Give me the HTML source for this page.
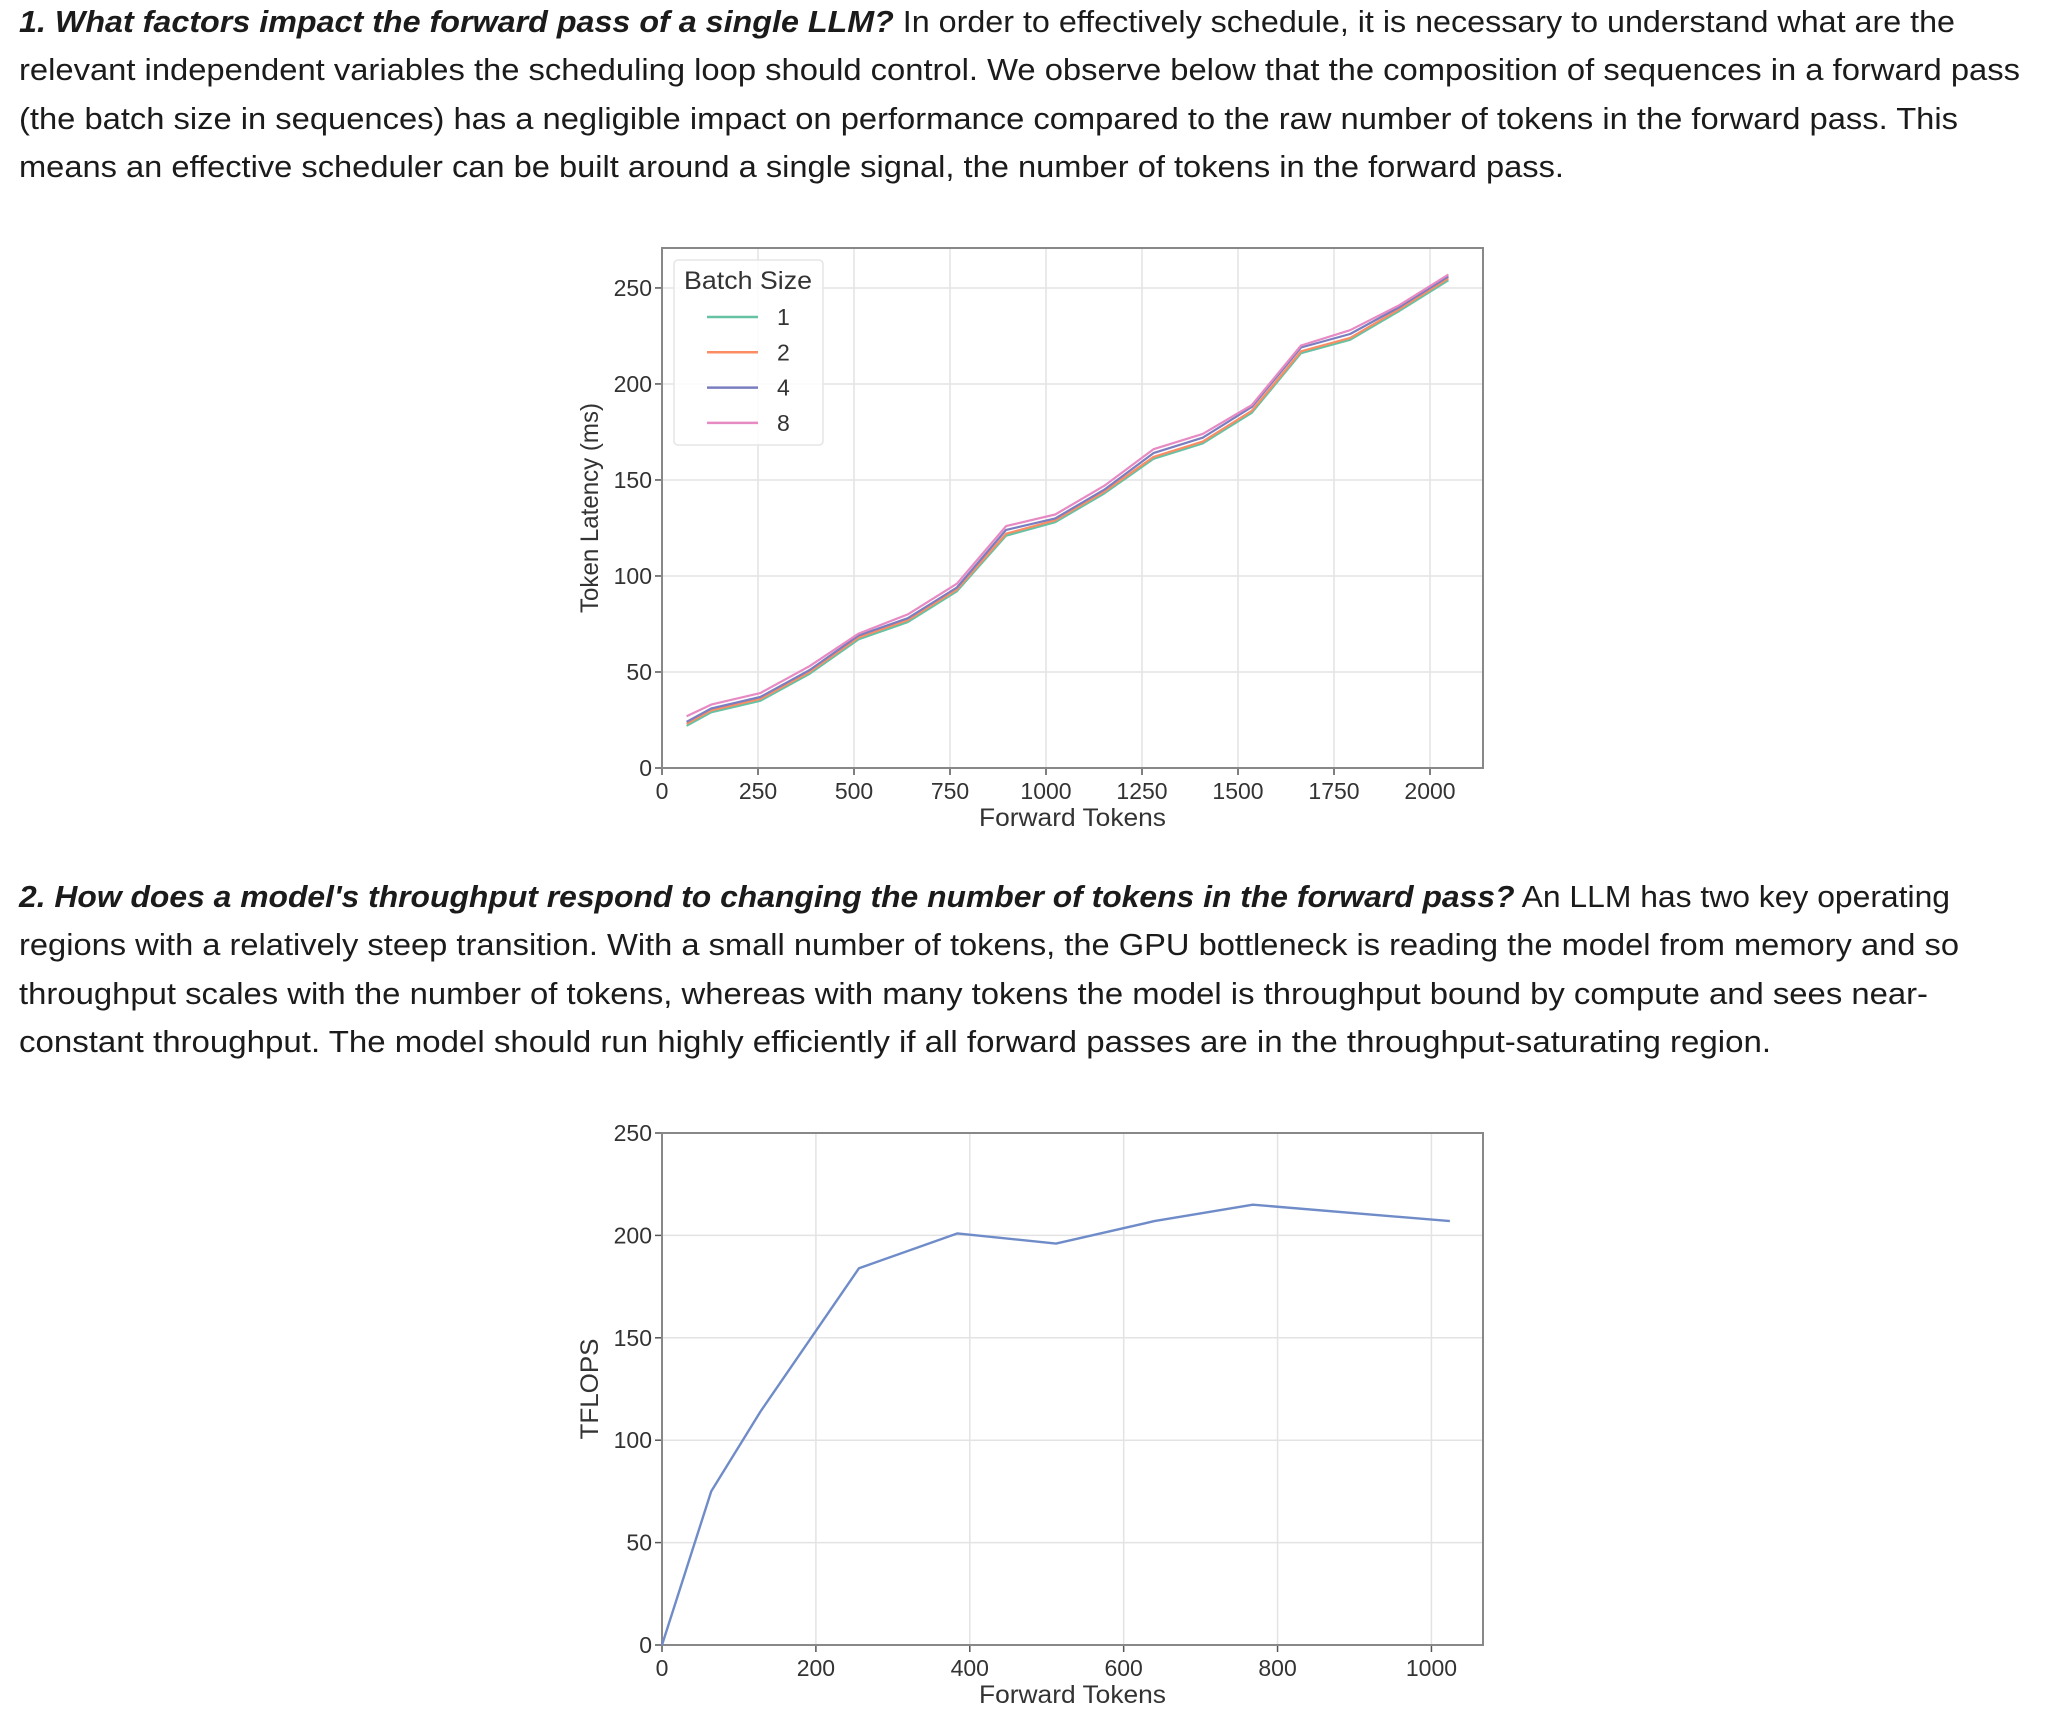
<!DOCTYPE html>
<html><head><meta charset="utf-8">
<style>
html,body{margin:0;padding:0;background:#fff;}
svg{display:block;font-family:"Liberation Sans",sans-serif;}
</style></head>
<body>
<svg id="page" width="2046" height="1730" viewBox="0 0 2046 1730" xmlns="http://www.w3.org/2000/svg">
<g font-size="31" fill="#1b1b1b">
<text x="19" y="32" textLength="1936" lengthAdjust="spacingAndGlyphs"><tspan font-weight="bold" font-style="italic">1. What factors impact the forward pass of a single LLM?</tspan> In order to effectively schedule, it is necessary to understand what are the</text>
<text x="19" y="80" textLength="2001" lengthAdjust="spacingAndGlyphs">relevant independent variables the scheduling loop should control. We observe below that the composition of sequences in a forward pass</text>
<text x="19" y="129" textLength="1939" lengthAdjust="spacingAndGlyphs">(the batch size in sequences) has a negligible impact on performance compared to the raw number of tokens in the forward pass. This</text>
<text x="19" y="177" textLength="1545" lengthAdjust="spacingAndGlyphs">means an effective scheduler can be built around a single signal, the number of tokens in the forward pass.</text>
</g>
<g font-size="31" fill="#1b1b1b">
<text x="19" y="907" textLength="1931" lengthAdjust="spacingAndGlyphs"><tspan font-weight="bold" font-style="italic">2. How does a model's throughput respond to changing the number of tokens in the forward pass?</tspan> An LLM has two key operating</text>
<text x="19" y="955" textLength="1940" lengthAdjust="spacingAndGlyphs">regions with a relatively steep transition. With a small number of tokens, the GPU bottleneck is reading the model from memory and so</text>
<text x="19" y="1004" textLength="1909" lengthAdjust="spacingAndGlyphs">throughput scales with the number of tokens, whereas with many tokens the model is throughput bound by compute and sees near-</text>
<text x="19" y="1052" textLength="1752" lengthAdjust="spacingAndGlyphs">constant throughput. The model should run highly efficiently if all forward passes are in the throughput-saturating region.</text>
</g>
<g id="chart1"></g>
<g id="chart2"></g>
</svg>
<script>
// Chart 1 data
const c1X = [64,128,256,384,512,640,768,896,1024,1152,1280,1408,1536,1664,1792,1920,2048];
const c1B1 = [22,29,35,49,67,76,92,121,128,143,161,169,185,216,223,238,254];
const c1B2 = [23,30,36,50,68,77,93,122,129,144,162,170,186,217,224,239,255];
const c1B4 = [24,31,37,51,69,78,94,124,130,145,164,172,188,219,226,240,256];
const c1B8 = [27,33,39,53,70,80,96,126,132,147,166,174,189,220,228,241,257];
const c1Series = ['1','2','4','8'];
const c1XTicks = [0,250,500,750,1000,1250,1500,1750,2000];
const c1YTicks = [0,50,100,150,200,250];
// Chart 2 data
const c2X = [0,64,128,256,384,512,640,768,1024];
const c2Y = [0,75,114,184,201,196,207,215,207];
const c2XTicks = [0,200,400,600,800,1000];
const c2YTicks = [0,50,100,150,200,250];

const NS='http://www.w3.org/2000/svg';
function mk(parent,tag,attrs,text){const e=document.createElementNS(NS,tag);for(const k in attrs)e.setAttribute(k,attrs[k]);if(text!==undefined)e.textContent=text;parent.appendChild(e);return e;}

function axes(g,o){
  const sx=v=>o.L+(v-o.x0)/(o.x1-o.x0)*(o.R-o.L);
  const sy=v=>o.B-(v-o.y0)/(o.y1-o.y0)*(o.B-o.T);
  o.xt.forEach(t=>{
    const l=mk(g,'line',{x1:sx(t),x2:sx(t),y1:o.T,y2:o.B,stroke:'#e3e3e3','stroke-width':1.5});
    
    
    const tk=mk(g,'line',{x1:sx(t),x2:sx(t),y1:o.B,y2:o.B+7,stroke:'#555','stroke-width':1.5});
    
    
    const tx=mk(g,'text',{x:sx(t),y:o.B+31,'text-anchor':'middle','font-size':23,fill:'#333'},String(t));
    
    
  });
  o.yt.forEach(t=>{
    const l=mk(g,'line',{x1:o.L,x2:o.R,y1:sy(t),y2:sy(t),stroke:'#e3e3e3','stroke-width':1.5});
    
    
    const tk=mk(g,'line',{x1:o.L-7,x2:o.L,y1:sy(t),y2:sy(t),stroke:'#555','stroke-width':1.5});
    
    
    const tx=mk(g,'text',{x:o.L-10,y:sy(t)+8,'text-anchor':'end','font-size':23,fill:'#333'},String(t));
    
    
  });
  const fr=mk(g,'rect',{x:o.L,y:o.T,width:o.R-o.L,height:o.B-o.T,fill:'none',stroke:'#888','stroke-width':2});
  
  
  const xl=mk(g,'text',{x:(o.L+o.R)/2,y:o.B+58,'text-anchor':'middle','font-size':25,fill:'#333',textLength:187,lengthAdjust:'spacingAndGlyphs'},o.xlab);
  
  
  const yc=(o.T+o.B)/2;
  const yl=mk(g,'text',{x:0,y:0,transform:`translate(598,${yc}) rotate(-90)`,'text-anchor':'middle','font-size':25,fill:'#333',textLength:o.ylen,lengthAdjust:'spacingAndGlyphs'},o.ylab);
  
  
  return {sx,sy};
}
function pathD(xs,ys,sx,sy){return xs.map((x,i)=>(i?'L':'M')+sx(x).toFixed(1)+','+sy(ys[i]).toFixed(1)).join(' ');}

// Chart 1
const g1=document.getElementById('chart1');
const a1=axes(g1,{L:662,R:1483,T:248,B:768,x0:0,x1:2138,y0:0,y1:270.8,xt:c1XTicks,yt:c1YTicks,xlab:'Forward Tokens',ylab:'Token Latency (ms)',ylen:210});
const c1Vals=[c1B1,c1B2,c1B4,c1B8];
const c1Colors=['#66c2a5','#fc8d62','#7a7ec0','#e78ac3'];
c1Vals.forEach((ys,i)=>{
  const p=mk(g1,'path',{d:pathD(c1X,ys,a1.sx,a1.sy),fill:'none',stroke:c1Colors[i],'stroke-width':2.2,'stroke-linejoin':'round'});
  
  
});
const lg=mk(g1,'g',{});


mk(lg,'rect',{x:674,y:260,width:149,height:185,rx:4,fill:'#fff','fill-opacity':0.85,stroke:'#e5e5e5','stroke-width':1.5});
const lt=mk(lg,'text',{x:684,y:289,'font-size':25,fill:'#333',textLength:128,lengthAdjust:'spacingAndGlyphs'},'Batch Size');


c1Series.forEach((s,i)=>{
  const y=317+i*35.3;
  const ln=mk(lg,'line',{x1:707,x2:758,y1:y,y2:y,stroke:c1Colors[i],'stroke-width':2.5});
  
  
  const t=mk(lg,'text',{x:777,y:y+8,'font-size':23,fill:'#333'},s);
  
  
});

// Chart 2
const g2=document.getElementById('chart2');
const a2=axes(g2,{L:662,R:1483,T:1133,B:1645,x0:0,x1:1067,y0:0,y1:250,xt:c2XTicks,yt:c2YTicks,xlab:'Forward Tokens',ylab:'TFLOPS',ylen:101});
const p2=mk(g2,'path',{d:pathD(c2X,c2Y,a2.sx,a2.sy),fill:'none',stroke:'#6f8cc9','stroke-width':2.4,'stroke-linejoin':'round'});


</script>
</body></html>
